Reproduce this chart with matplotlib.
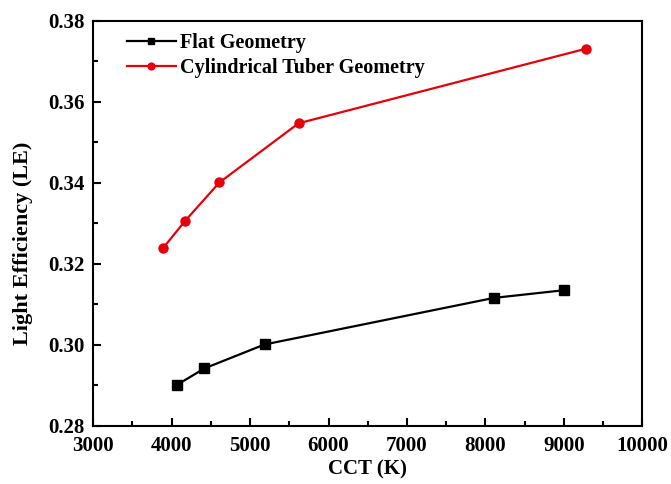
import matplotlib
matplotlib.use('Agg')
import matplotlib.pyplot as plt
from matplotlib.ticker import MultipleLocator

# datos
cct_flat = [4073, 4418, 5184, 8109, 9003]
le_flat = [0.2902, 0.2942, 0.3001, 0.3116, 0.3135]

cct_cyl = [3890, 4175, 4609, 5618, 9280]
le_cyl = [0.3239, 0.3307, 0.3401, 0.3547, 0.3731]

x_ticks = [3000, 4000, 5000, 6000, 7000, 8000, 9000, 10000]
y_ticks = [0.28, 0.30, 0.32, 0.34, 0.36, 0.38]

plt.rcParams['font.family'] = ['Liberation Serif', 'DejaVu Serif']
plt.rcParams['font.weight'] = 'bold'

fig = plt.figure(figsize=(6.71, 4.84), dpi=100)
ax = fig.add_axes([0.139, 0.12, 0.818, 0.837])

ax.plot(cct_flat, le_flat, color='black', marker='s', markersize=6.5, linewidth=1.6,
        label='Flat Geometry')
ax.plot(cct_cyl, le_cyl, color='#e8000b', marker='o', markersize=6.5, linewidth=1.6,
        label='Cylindrical Tuber Geometry')

ax.set_xlim(3000, 10000)
ax.set_ylim(0.28, 0.38)
ax.set_xticks(x_ticks)
ax.set_yticks(y_ticks)
ax.set_yticklabels([f'{v:.2f}' for v in y_ticks])
ax.xaxis.set_minor_locator(MultipleLocator(500))
ax.yaxis.set_minor_locator(MultipleLocator(0.01))

ax.tick_params(which='both', direction='in', top=False, right=False, width=1.5)
ax.tick_params(which='major', length=6, labelsize=15)
ax.tick_params(axis='x', which='major', pad=7)
ax.tick_params(axis='y', which='major', pad=6)
ax.tick_params(which='minor', length=3.5)
for s in ax.spines.values():
    s.set_linewidth(1.5)

ax.set_xlabel('CCT (K)', fontsize=15, fontweight='bold', labelpad=3)
ax.set_ylabel('Light Efficiency (LE)', fontsize=16, fontweight='bold')
ax.yaxis.set_label_coords(-0.11, 0.45)

ax.legend(loc='upper left', frameon=False, fontsize=14.5, handlelength=2.4,
          handletextpad=0.2, borderaxespad=0.2, labelspacing=0.25, markerscale=0.75,
          bbox_to_anchor=(0.04, 1.0))

fig.savefig('out.png', dpi=100)
